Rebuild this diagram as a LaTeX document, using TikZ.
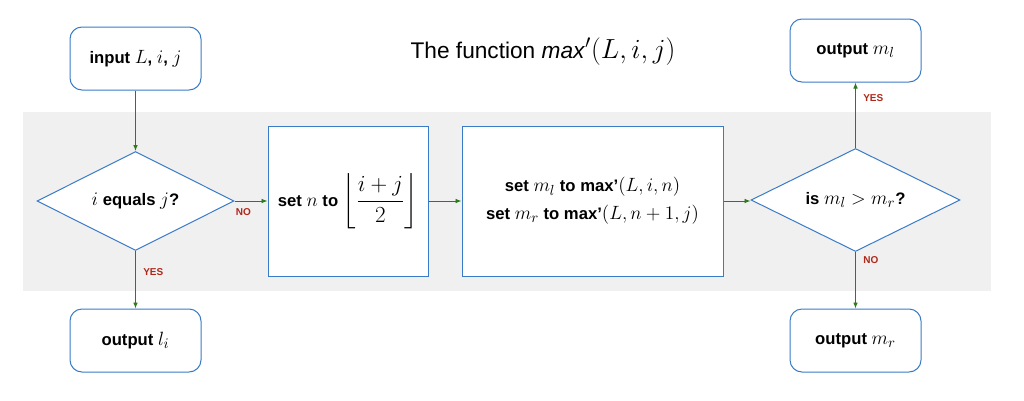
\documentclass[tikz,border=0pt]{standalone}
\usepackage{amsmath}
\usepackage{fontspec}
\setmainfont{Liberation Sans}
\usetikzlibrary{arrows.meta,shapes.geometric}
\definecolor{edgeblue}{HTML}{3A7BC8}
\definecolor{arrgreen}{HTML}{2F7A1E}
\definecolor{labred}{HTML}{B0281A}
\definecolor{bandgray}{HTML}{F0F0F0}
\newcommand{\mth}[1]{{\fontsize{15}{18}\selectfont$#1$}}
\newcommand{\bigmth}[1]{{\fontsize{17}{20}\selectfont$#1$}}
\newcommand{\tmth}[1]{{\fontsize{20}{23}\selectfont$#1$}}
\tikzset{
  term/.style={draw=edgeblue, line width=0.75pt, fill=white, rounded corners=9pt,
    minimum width=98.25pt, minimum height=47.25pt, inner sep=0pt,
    font=\fontsize{12.5}{15}\selectfont\bfseries},
  proc/.style={draw=edgeblue, line width=0.75pt, fill=white, inner sep=0pt,
    minimum height=112.5pt, font=\fontsize{12.5}{21}\selectfont\bfseries, align=center},
  dec/.style={draw=edgeblue, line width=0.75pt, fill=white, diamond, aspect=2, inner sep=0pt,
    font=\fontsize{12.5}{15}\selectfont\bfseries},
  arr/.style={draw=arrgreen, line width=0.7pt, -{Latex[length=4.5pt,width=3.5pt]}},
  lab/.style={text=labred, font=\fontsize{7.5}{9}\selectfont\bfseries, inner sep=1pt},
}
\begin{document}
\begin{tikzpicture}[x=0.75pt, y=-0.75pt]
\useasboundingbox (0,0) rectangle (1024,400);
\fill[bandgray] (23,112) rectangle (991,291);
\node (title) at (543,52) {\fontsize{17}{20}\selectfont The function \textit{max}\tmth{'(L, i, j)}};
\node[term] (in) at (135.5,58.5) {input \mth{L}, \mth{i}, \mth{j}};
\node[dec, minimum width=147.75pt, minimum height=74.25pt] (d1) at (135.5,201) {\mth{i} equals \mth{j}?};
\node[term] (outl) at (135.5,340.5) {output \mth{l_i}};
\node[proc, minimum width=120pt] (b1) at (348,201) {set \mth{n} to \bigmth{\left\lfloor\dfrac{i+j}{2}\right\rfloor}};
\node[proc, minimum width=195.75pt] (b2) at (592.5,201) {set \mth{m_l} to max'\mth{(L, i, n)}\\ set \mth{m_r} to max'\mth{(L, n+1,j)}};
\node[dec, minimum width=156.75pt, minimum height=77.25pt] (d2) at (855.5,200) {is \mth{m_l > m_r}?};
\node[term] (ml) at (855.5,50.5) {output \mth{m_l}};
\node[term] (mr) at (855.5,340.5) {output \mth{m_r}};
\draw[arr] (in.south) -- (d1.north);
\draw[arr] (d1.east) -- node[lab, pos=0.27, below=4pt] {NO} (b1.west);
\draw[arr] (d1.south) -- node[lab, pos=0.36, right=4.5pt] {YES} (outl.north);
\draw[arr] (b1.east) -- (b2.west);
\draw[arr] (b2.east) -- (b2.east -| d2.west);
\draw[arr] (d2.north) -- node[lab, pos=0.76, right=4.5pt] {YES} (ml.south);
\draw[arr] (d2.south) -- node[lab, pos=0.14, right=4.5pt] {NO} (mr.north);
\end{tikzpicture}
\end{document}
